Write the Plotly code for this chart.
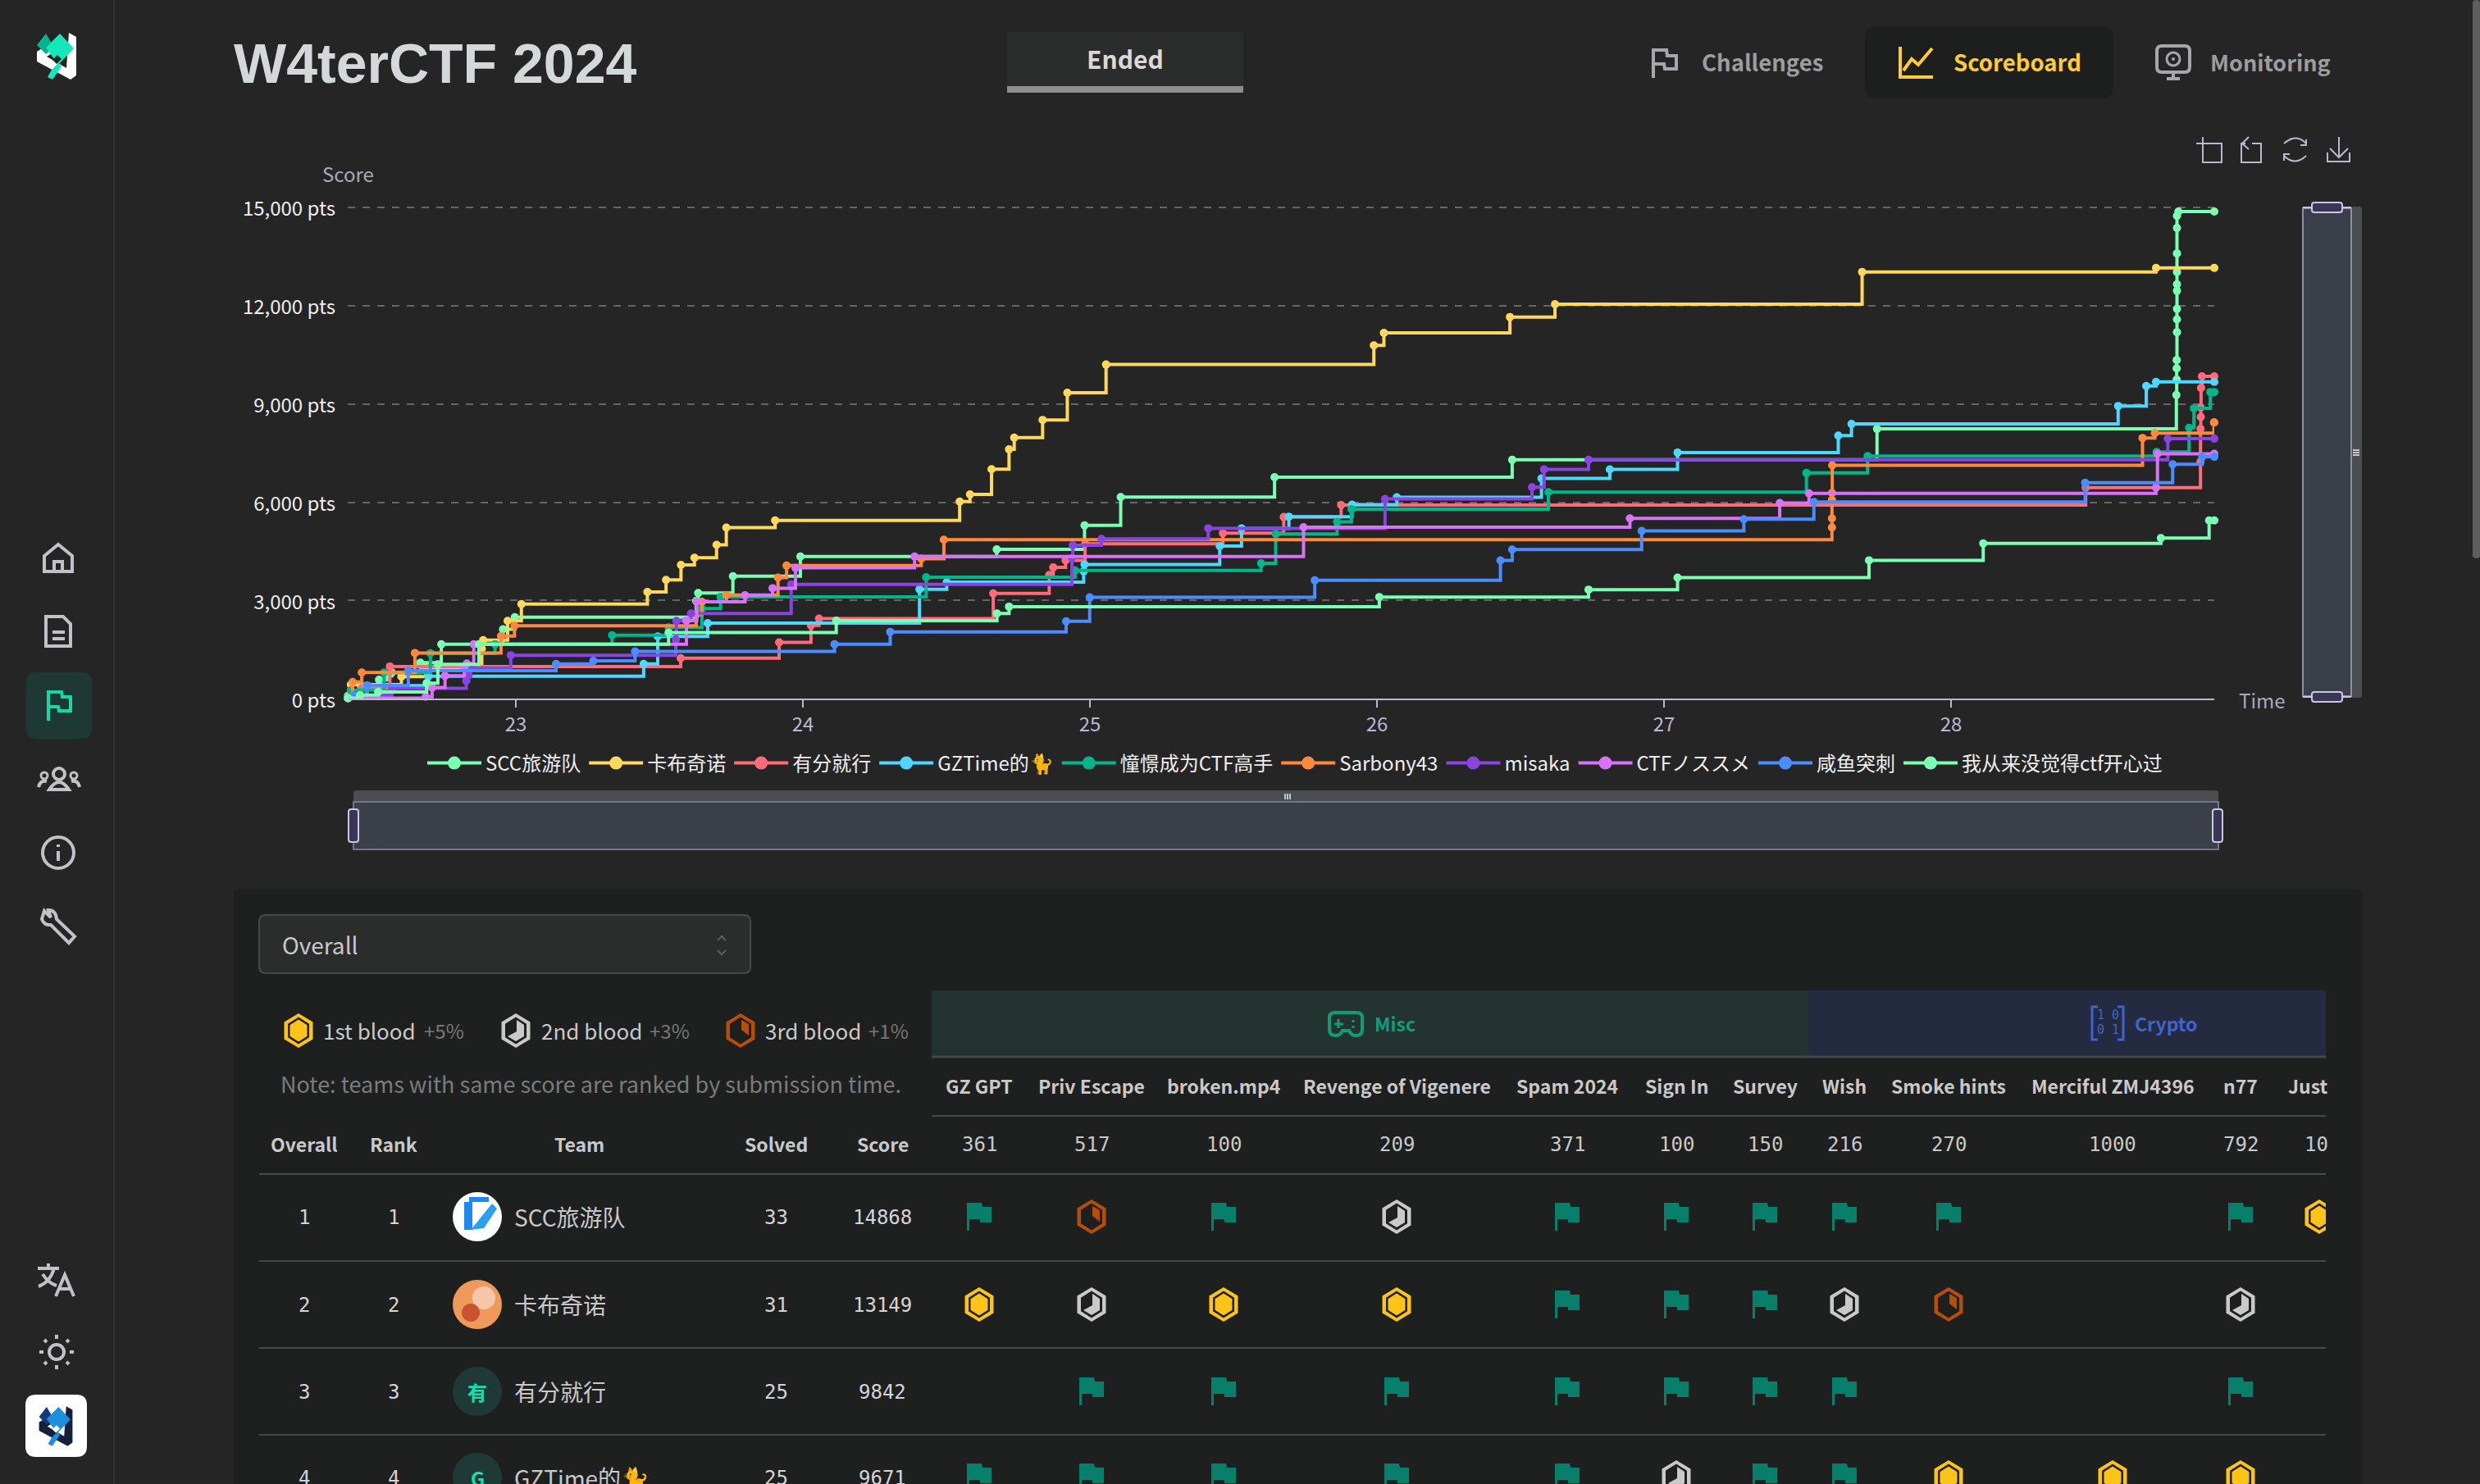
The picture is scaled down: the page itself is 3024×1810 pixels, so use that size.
import plotly.graph_objects as go

W, H = 3024, 1810
BG = "#252525"
PANEL = "#1e2020"
LINE = "#474949"
TEXT = "#c9c9c9"
AXIS = "#b9b8ce"
FONT = "Noto Sans CJK SC"
MONO = "DejaVu Sans Mono"

# score timelines, x in days of the month, y in points
team_labels = ["SCC旅游队", "卡布奇诺", "有分就行", "GZTime的🐈", "憧憬成为CTF高手",
               "Sarbony43", "misaka", "CTFノススメ", "咸鱼突刺", "我从来没觉得ctf开心过"]
team_colors = ["#7bffb2", "#ffd85c", "#ff6b78", "#4fd8ff", "#00b78c",
               "#ff8a3d", "#8a45e0", "#d873f5", "#4b8dff", "#7bffb2"]

scc_days = [22.415, 22.459, 22.523, 22.552, 22.568, 22.667, 22.740, 22.955, 22.996, 23.628, 23.635,
            23.756, 23.991, 24.675, 24.981, 25.107, 25.643, 26.471, 27.742, 28.785, 28.786, 28.786,
            28.786, 28.787, 28.787, 28.787, 28.787, 28.787, 28.787, 28.787, 28.787, 28.787, 28.792, 28.917]
scc_scores = [23, 413, 586, 701, 804, 1103, 1665, 2125, 2492, 2986, 3228,
              3744, 4342, 4560, 5295, 6157, 6765, 7292, 8236, 9269, 9740, 10085,
              10337, 11187, 11578, 11899, 12451, 12646, 13025, 13588, 14369, 14737, 14868, 14868]

kabu_days = [22.415, 22.425, 22.601, 22.686, 22.881, 22.886, 22.971, 23.019, 23.458, 23.523, 23.575,
             23.622, 23.699, 23.733, 23.903, 24.546, 24.582, 24.657, 24.718, 24.736, 24.835, 24.921,
             25.056, 25.989, 26.024, 26.463, 26.620, 27.690, 28.714, 28.917]
kabu_scores = [92, 436, 678, 953, 1528, 1792, 2378, 2894, 3262, 3630, 4089,
               4307, 4698, 5226, 5444, 6019, 6237, 7006, 7615, 7971, 8511, 9338,
               10200, 10783, 11167, 11650, 12040, 13025, 13149, 13149]

youfen_days = [22.415, 22.463, 22.561, 23.574, 23.917, 24.028, 24.056, 24.663, 24.858, 24.872, 24.915,
               24.983, 25.463, 25.675, 25.875, 28.469, 28.869, 28.869, 28.870, 28.870, 28.871, 28.874, 28.917]
youfen_scores = [23, 322, 988, 1240, 1723, 2240, 2447, 3216, 3779, 4009, 4227,
                 4732, 5054, 5548, 5915, 6444, 7236, 8236, 8603, 8890, 9487, 9842, 9842]

gztime_days = [22.415, 22.480, 22.695, 23.445, 23.494, 23.668, 24.406, 24.501, 24.978, 24.981, 25.452,
               25.528, 25.693, 25.913, 26.069, 26.573, 26.811, 27.047, 27.607, 27.653, 28.582, 28.680,
               28.714, 28.917]
gztime_scores = [23, 402, 689, 1068, 1907, 2309, 3342, 3561, 3894, 4100, 4663,
                 5203, 5559, 5927, 6150, 6725, 7000, 7516, 8033, 8391, 8936, 9545,
                 9671, 9671]

dream_days = [22.415, 22.425, 22.541, 22.702, 22.927, 23.335, 23.532, 23.648, 23.713, 24.429, 24.948,
              25.596, 25.647, 25.861, 25.911, 26.597, 27.496, 27.709, 28.716, 28.829, 28.846, 28.903, 28.917]
dream_scores = [23, 264, 804, 1390, 1665, 1941, 2182, 2757, 3113, 3710, 3917,
                4135, 5031, 5398, 5791, 6308, 6892, 7408, 7535, 8270, 8867, 9361, 9361]

sarbony_days = [22.415, 22.431, 22.463, 22.648, 22.948, 22.995, 23.628, 23.648, 23.733, 23.913, 23.943,
                24.412, 24.491, 27.585, 27.585, 27.585, 27.585, 27.586, 28.667, 28.710, 28.916, 28.917]
sarbony_scores = [23, 517, 804, 1401, 1918, 2228, 2573, 2963, 3170, 3698, 4066,
                  4273, 4858, 5233, 5508, 6067, 6283, 7125, 7960, 8109, 8431, 8431]

misaka_days = [22.415, 22.533, 22.568, 22.827, 22.835, 22.842, 22.982, 23.557, 23.559, 23.610, 23.959,
               24.937, 24.940, 25.040, 25.412, 26.028, 26.540, 26.582, 26.737, 28.755, 28.917]
misaka_scores = [23, 115, 322, 551, 724, 942, 1332, 1803, 2378, 2607, 3492,
                 4296, 4686, 4881, 5203, 6100, 6458, 7000, 7292, 7937, 7937]

susume_days = [22.415, 22.686, 22.708, 22.753, 22.820, 22.829, 22.853, 23.594, 23.630, 23.798, 23.894,
               23.974, 24.389, 25.744, 26.881, 27.403, 27.505, 28.714, 28.719, 28.917]
susume_scores = [23, 69, 345, 701, 953, 1080, 1665, 2389, 2963, 3159, 3377,
                 3997, 4342, 5238, 5508, 5975, 6271, 6444, 7477, 7477]

xianyu_days = [22.415, 22.434, 22.482, 22.625, 23.140, 23.270, 23.415, 24.110, 24.304, 24.917, 24.999,
               25.783, 26.430, 26.471, 26.922, 27.278, 27.522, 28.467, 28.772, 28.875, 28.917]
xianyu_scores = [23, 115, 413, 861, 1068, 1160, 1447, 1665, 2045, 2366, 3101,
                 3618, 4225, 4558, 5125, 5483, 6007, 6593, 7156, 7386, 7386]

never_days = [22.415, 22.457, 22.520, 22.689, 22.728, 22.871, 23.532, 24.116, 24.676, 24.718, 26.008,
              26.737, 27.047, 27.714, 28.112, 28.731, 28.899, 28.917]
never_scores = [23, 115, 207, 482, 1057, 1665, 2022, 2389, 2607, 2814, 3108,
                3333, 3700, 4227, 4744, 4904, 5444, 5444]

team_days = [scc_days, kabu_days, youfen_days, gztime_days, dream_days,
             sarbony_days, misaka_days, susume_days, xianyu_days, never_days]
team_scores = [scc_scores, kabu_scores, youfen_scores, gztime_scores, dream_scores,
               sarbony_scores, misaka_scores, susume_scores, xianyu_scores, never_scores]

day_ticks = [23, 24, 25, 26, 27, 28]
score_ticks = [0, 3000, 6000, 9000, 12000, 15000]
score_tick_text = ["0 pts", "3,000 pts", "6,000 pts", "9,000 pts", "12,000 pts", "15,000 pts"]

# scoreboard table
challenge_names = ["GZ GPT", "Priv Escape", "broken.mp4", "Revenge of Vigenere", "Spam 2024", "Sign In",
                   "Survey", "Wish", "Smoke hints", "Merciful ZMJ4396", "n77", "Just"]
challenge_points = ["361", "517", "100", "209", "371", "100", "150", "216", "270", "1000", "792", "10"]
row_overall = ["1", "2", "3", "4"]
row_rank = ["1", "2", "3", "4"]
row_team = ["SCC旅游队", "卡布奇诺", "有分就行", "GZTime的🐈"]
row_solved = ["33", "31", "25", "25"]
row_score = ["14868", "13149", "9842", "9671"]
# F solved, 1/2/3 blood, . unsolved
row_marks = [
    ["F", "3", "F", "2", "F", "F", "F", "F", "F", ".", "F", "1"],
    ["1", "2", "1", "1", "F", "F", "F", "2", "3", ".", "2", "."],
    [".", "F", "F", "F", "F", "F", "F", "F", ".", ".", "F", "."],
    ["F", "F", "F", "F", "F", "2", "F", "F", "1", "1", "1", "."],
]

# page layout, in screen pixels
col_x = [1194, 1331, 1492, 1703, 1911, 2044, 2152, 2249, 2376, 2576, 2732, 2828]
row_y = [1484, 1591, 1697, 1802]

shapes = []
notes = []
PX = dict(xref="x2", yref="y2")


def rect(x0, y0, x1, y1, fill, line=None, r=0, lw=2):
    if r:
        d = (f"M{x0+r},{y0} H{x1-r} Q{x1},{y0} {x1},{y0+r} V{y1-r} Q{x1},{y1} {x1-r},{y1} "
             f"H{x0+r} Q{x0},{y1} {x0},{y1-r} V{y0+r} Q{x0},{y0} {x0+r},{y0} Z")
        shapes.append(dict(type="path", path=d, fillcolor=fill, line=dict(color=line or fill, width=lw if line else 0), **PX))
    else:
        shapes.append(dict(type="rect", x0=x0, y0=y0, x1=x1, y1=y1, fillcolor=fill,
                           line=dict(color=line or fill, width=lw if line else 0), **PX))


def stroke(d, color, w=3):
    shapes.append(dict(type="path", path=d, line=dict(color=color, width=w), **PX))


def poly(points, fill):
    d = "M" + " L".join(f"{x},{y}" for x, y in points) + " Z"
    shapes.append(dict(type="path", path=d, fillcolor=fill, line=dict(color=fill, width=0), **PX))


def circle(cx, cy, r, fill=None, color=None, w=3):
    shapes.append(dict(type="circle", x0=cx-r, y0=cy-r, x1=cx+r, y1=cy+r, fillcolor=fill or "rgba(0,0,0,0)",
                       line=dict(color=color or "rgba(0,0,0,0)", width=w if color else 0), **PX))


def hline(x0, x1, y, color=LINE, w=2):
    shapes.append(dict(type="line", x0=x0, x1=x1, y0=y, y1=y, line=dict(color=color, width=w), **PX))


def txt(x, y, s, size, color=TEXT, anchor="left", weight=400, family=FONT):
    notes.append(dict(x=x, y=y, text=s, showarrow=False, xanchor=anchor, yanchor="middle",
                      font=dict(size=size, color=color, family=family, weight=weight), **PX))


def hex_points(cx, cy, w, h):
    return [(cx, cy-h/2), (cx+w/2, cy-h/4), (cx+w/2, cy+h/4), (cx, cy+h/2), (cx-w/2, cy+h/4), (cx-w/2, cy-h/4)]


def blood(kind, cx, cy):
    color = {"1": "#fcc419", "2": "#c9c9c9", "3": "#b64d08"}[kind]
    poly(hex_points(cx, cy, 35, 42), color)
    poly(hex_points(cx, cy, 26, 33), PANEL)
    if kind == "1":
        poly(hex_points(cx, cy, 21, 27), color)
    elif kind == "2":
        poly([(cx+1, cy-13), (cx+10, cy-7), (cx+10, cy+7), (cx, cy+13), (cx-10, cy+7), (cx+1, cy+1)], color)
    else:
        poly([(cx+1, cy-13), (cx+10, cy-8), (cx+10, cy+6), (cx+1, cy-1)], color)


def flag(cx, cy):
    c = "#087f6b"
    poly([(cx-15, cy-17), (cx+3, cy-17), (cx+4, cy-12), (cx+15, cy-12), (cx+15, cy+7),
          (cx+1, cy+7), (cx+1, cy+3), (cx-12, cy+3), (cx-12, cy+17), (cx-15, cy+17)], c)


def logo(cx, cy, k, white, teal, dark, hole):
    def at(pts):
        return [(cx+k*x, cy+k*y) for x, y in pts]
    poly(at([(15, -28), (24, -23), (24, 24), (17, 29), (-24, 7), (-24, -5), (-10, -14), (-4, -4),
             (-12, 1), (12, 15), (14, -14)]), white)
    poly(at([(-13, -27), (-3, -10), (-13, -2), (-24, -13)]), dark)
    poly(at([(4, -27), (21, -9), (2, 11), (-13, -10)]), teal)
    poly(at([(-6, 17), (2, 9), (6, 13), (-5, 29), (-11, 26)]), teal)
    poly(at([(1, -1), (6, 4), (0, 10), (-5, 5)]), hole)


# page furniture
shapes.append(dict(type="line", x0=139, x1=139, y0=0, y1=H, line=dict(color="#343434", width=2), **PX))
rect(3015, 0, 3024, 681, "#5e5e5e", r=4)

# sidebar
ICON = "#c1c2c5"
logo(69, 68, 1.0, "#ffffff", "#14e8b9", "#05b48f", BG)
rect(32, 820, 112, 901, "#1e3934", r=12)
hx, hy = 71, 681
stroke(f"M{hx-17},{hy-3} L{hx},{hy-17} L{hx+17},{hy-3} V{hy+16} H{hx-17} Z M{hx-5},{hy+16} V{hy+4} H{hx+5} V{hy+16}", ICON, 4)
dx, dy = 71, 770
stroke(f"M{dx-15},{dy-18} H{dx+6} L{dx+15},{dy-9} V{dy+18} H{dx-15} Z M{dx-7},{dy+1} H{dx+8} M{dx-7},{dy+9} H{dx+8}", ICON, 4)
fx, fy = 72, 860
stroke(f"M{fx-13},{fy+19} V{fy-16} H{fx+3} L{fx+4},{fy-10} H{fx+14} V{fy+7} H{fx} L{fx-1},{fy+2} H{fx-13}", "#17d9a8", 4)
tx, ty = 72, 951
circle(tx, ty-7, 7, color=ICON, w=4)
circle(tx-18, ty-5, 4, color=ICON, w=3)
circle(tx+18, ty-5, 4, color=ICON, w=3)
stroke(f"M{tx-12},{ty+12} Q{tx},{ty-6} {tx+12},{ty+12} Z M{tx-25},{ty+9} Q{tx-23},{ty} {tx-15},{ty+2} M{tx+25},{ty+9} Q{tx+23},{ty} {tx+15},{ty+2}", ICON, 4)
ix, iy = 71, 1040
circle(ix, iy, 19, color=ICON, w=4)
stroke(f"M{ix},{iy-2} V{iy+10} M{ix},{iy-10} V{iy-7}", ICON, 4)
wx, wy = 71, 1130
stroke(f"M{wx-20},{wy-9} L{wx-17},{wy-19} L{wx-9},{wy-11} L{wx-12},{wy-20} Q{wx-3},{wy-20} {wx-2},{wy-9} "
       f"L{wx+20},{wy+12} L{wx+13},{wy+20} L{wx-9},{wy-2} Q{wx-17},{wy-1} {wx-20},{wy-9} Z", ICON, 4)
ax, ay = 69, 1560
stroke(f"M{ax-23},{ay-13} H{ax+3} M{ax-10},{ay-19} V{ay-13} M{ax-3},{ay-13} Q{ax-8},{ay+4} {ax-22},{ay+9} "
       f"M{ax-17},{ay-6} Q{ax-10},{ay+5} {ax},{ay+8} M{ax-1},{ay+21} L{ax+10},{ay-5} L{ax+21},{ay+21} M{ax+3},{ay+12} H{ax+17}", ICON, 4)
sx, sy = 69, 1649
circle(sx, sy, 9, color=ICON, w=4)
stroke(f"M{sx},{sy-21} V{sy-16} M{sx},{sy+16} V{sy+21} M{sx-21},{sy} H{sx-16} M{sx+16},{sy} H{sx+21} "
       f"M{sx-15},{sy-15} L{sx-12},{sy-12} M{sx+12},{sy+12} L{sx+15},{sy+15} M{sx+15},{sy-15} L{sx+12},{sy-12} M{sx-12},{sy+12} L{sx-15},{sy+15}", ICON, 4)
rect(31, 1701, 106, 1777, "#ffffff", r=13)
logo(68, 1739, 0.85, "#16203c", "#1e8fe0", "#123a7a", "#ffffff")

# header
txt(283, 77, "W4terCTF 2024", 68, "#d5d8d9", weight=700, family="Liberation Sans")
rect(1228, 39, 1516, 105, "#2b2d2d")
rect(1228, 105, 1516, 113, "#8c8e8d")
txt(1372, 71, "Ended", 30, "#d9d9d9", "center", 700)
cx_, cy_ = 2030, 77
stroke(f"M{cx_-14},{cy_+18} V{cy_-16} H{cx_+2} L{cx_+3},{cy_-9} H{cx_+14} V{cy_+7} H{cx_} L{cx_-1},{cy_+1} H{cx_-14}", "#a6a7a8", 4)
txt(2073, 75, "Challenges", 27.5, "#9c9d9e", weight=700)
rect(2274, 32, 2577, 120, "#1d1f1f", r=14)
bx, by = 2336, 76
stroke(f"M{bx-19},{by-19} V{by+18} H{bx+21} M{bx-15},{by+10} L{bx-5},{by-4} L{bx+3},{by+3} L{bx+20},{by-17}", "#ffcc33", 4)
txt(2380, 75, "Scoreboard", 27.5, "#ffcc33", weight=700)
mx, my = 2650, 75
rect(mx-20, my-19, mx+20, my+13, "rgba(0,0,0,0)", line="#a6a7a8", r=6, lw=4)
circle(mx, my-3, 8, color="#a6a7a8", w=3)
circle(mx, my-3, 2, fill="#a6a7a8")
stroke(f"M{mx},{my+13} V{my+21} M{mx-8},{my+21} H{mx+8}", "#a6a7a8", 4)
txt(2693, 75, "Monitoring", 27, "#9c9d9e", weight=700)

# chart toolbox, drawn like the chart library draws it
stroke("M2678,175 H2709 V198 H2686 V167", AXIS, 2)
stroke("M2746,175 H2757 V198 H2733 V175 H2738 M2742,167 L2734,175 L2742,182", AXIS, 2)
stroke("M2785,175 Q2800,162 2812,175 M2812,170 V177 H2805 M2812,190 Q2798,203 2785,190 M2785,196 V188 H2792", AXIS, 2)
stroke("M2838,186 V197 H2865 V186 M2852,167 V192 M2841,181 L2852,192 L2863,181", AXIS, 2)

# chart axis names
txt(424, 211, "Score", 24, "#a9a8bd", "center")
txt(2758, 853, "Time", 24, "#a9a8bd", "center")

# right zoom bar
rect(2867, 252, 2880, 851, "#4b4e50", r=3)
rect(2808, 254, 2867, 849, "#3b3f4a", line="#8f90a8", lw=2)
for yy in (549, 552, 555):
    hline(2869, 2877, yy, "#f0f0f0", 1.5)
for yy in (253, 850):
    rect(2819, yy-6, 2856, yy+6, "#3b3656", line="#c8c8e0", r=3, lw=2)
    hline(2808, 2819, yy, "#c8c8e0", 2)
    hline(2856, 2867, yy, "#c8c8e0", 2)

# bottom zoom bar
rect(431, 964, 2705, 978, "#4b4e50", r=3)
rect(431, 978, 2705, 1036, "#3b3f4a", line="#73758c", lw=2)
for xx in (1567, 1570, 1573):
    shapes.append(dict(type="line", x0=xx, x1=xx, y0=968, y1=975, line=dict(color="#f0f0f0", width=1.5), **PX))
for xx in (431, 2704):
    rect(xx-6, 987, xx+6, 1027, "#3b3656", line="#c8c8e0", r=3, lw=2)

# scoreboard panel
rect(285, 1084, 2880, H+20, PANEL, r=8)
rect(316, 1116, 915, 1187, "#2b2d2d", line="#484a4a", r=8, lw=2)
txt(342, 1152, "Overall", 28, TEXT)
stroke("M875,1147 L880,1142 L885,1147 M875,1159 L880,1164 L885,1159", "#5d5f5f", 2)

blood("1", 364, 1257)
txt(392, 1256, "1st blood", 26, TEXT)
txt(515, 1256, "+5%", 24, "#777777")
blood("2", 629, 1257)
txt(658, 1256, "2nd blood", 26, TEXT)
txt(790, 1256, "+3%", 24, "#777777")
blood("3", 903, 1257)
txt(931, 1256, "3rd blood", 26, TEXT)
txt(1057, 1256, "+1%", 24, "#777777")
txt(340, 1321, "Note: teams with same score are ranked by submission time.", 27, "#7b7b7b")

# category bands
rect(1136, 1208, 2205, 1288, "#233330")
rect(2205, 1208, 2836, 1288, "#242a3f")
stroke("M1621,1241 Q1621,1235 1628,1235 H1654 Q1661,1235 1661,1241 V1256 Q1661,1263 1653,1263 Q1648,1263 1645,1257 H1637 Q1634,1263 1629,1263 Q1621,1263 1621,1256 Z", "#0f9d78", 4)
stroke("M1632,1243 V1254 M1627,1249 H1638 M1650,1244 V1247 M1650,1251 V1254", "#0f9d78", 3)
txt(1674, 1248, "Misc", 23, "#0f9d78", weight=700)
stroke("M2558,1228 H2551 V1268 H2558 M2582,1228 H2589 V1268 H2582", "#3f63d0", 3)
txt(2570, 1238, "1 0", 15, "#3f63d0", "center", family=MONO)
txt(2570, 1256, "0 1", 15, "#3f63d0", "center", family=MONO)
txt(2601, 1248, "Crypto", 23, "#3f63d0", weight=700)

# table lines
hline(1136, 2836, 1289, LINE, 3)
hline(1136, 2836, 1361)
for yy in (1432, 1538, 1644, 1750):
    hline(316, 2836, yy)

# table head
for head, hx_ in zip(["Overall", "Rank", "Team", "Solved", "Score"], [371, 480, 706, 946, 1076]):
    txt(hx_, 1395, head, 23, TEXT, "center", 700)
for i, name in enumerate(challenge_names):
    if name == "Just":
        txt(2788, 1324, name, 23, TEXT, "left", 700)
    else:
        txt(col_x[i], 1324, name, 23, TEXT, "center", 700)
for i, pts in enumerate(challenge_points):
    if pts == "10":
        txt(2808, 1396, pts, 24, TEXT, "left", family=MONO)
    else:
        txt(col_x[i], 1396, pts, 24, TEXT, "center", family=MONO)

# table rows
for r, y in enumerate(row_y):
    txt(371, y+1, row_overall[r], 24, "#d4d4d4", "center", family=MONO)
    txt(480, y+1, row_rank[r], 24, "#d4d4d4", "center", family=MONO)
    txt(625, y, row_team[r], 28, TEXT)
    txt(946, y+1, row_solved[r], 24, "#d4d4d4", "center", family=MONO)
    txt(1076, y+1, row_score[r], 24, "#d4d4d4", "center", family=MONO)
    for c, mark in enumerate(row_marks[r]):
        if mark == "F":
            flag(col_x[c], y)
        elif mark != ".":
            blood(mark, col_x[c], y)

# avatars
circle(582, row_y[0], 30, fill="#ffffff")
rect(566, 1466, 576, 1500, "#1e88f0")
poly([(574, 1500), (600, 1468), (606, 1474), (590, 1498)], "#29a0f0")
rect(572, 1460, 596, 1466, "#1e88f0")
circle(582, row_y[1], 30, fill="#ef9a5b")
circle(590, row_y[1]-8, 14, fill="#f4c7a9")
circle(574, row_y[1]+10, 11, fill="#c8542f")
circle(582, row_y[2], 30, fill="#1f3a36")
txt(582, row_y[2], "有", 24, "#12e0b0", "center", 700)
circle(582, row_y[3], 30, fill="#1f3a36")
txt(582, row_y[3], "G", 24, "#12e0b0", "center", 700)

# last column is cut off by the scroll area
rect(2836, 1290, 2880, H+20, PANEL)

fig = go.Figure()
for name, color, days, scores in zip(team_labels, team_colors, team_days, team_scores):
    fig.add_trace(go.Scatter(
        x=days,
        y=scores,
        name=name,
        legendgroup=name,
        showlegend=False,
        mode="lines+markers",
        line=dict(color=color, width=4, shape="hv"),
        marker=dict(color=color, size=10),
        cliponaxis=False,
    ))
# legend entries use a bigger dot than the chart points
for name, color in zip(team_labels, team_colors):
    fig.add_trace(go.Scatter(
        x=[None],
        y=[None],
        name=name,
        legendgroup=name,
        mode="lines+markers",
        line=dict(color=color, width=4),
        marker=dict(color=color, size=16),
    ))

fig.update_layout(
    width=W,
    height=H,
    margin=dict(l=0, r=0, t=0, b=0, autoexpand=False),
    paper_bgcolor=BG,
    plot_bgcolor="rgba(0,0,0,0)",
    font=dict(family=FONT, size=24, color="#eeeeee"),
    showlegend=True,
    legend=dict(orientation="h", x=1579/W, xanchor="center", y=1-931/H, yanchor="middle",
                bgcolor="rgba(0,0,0,0)", itemwidth=66, font=dict(size=24, color="#eeeeee"),
                itemclick=False, itemdoubleclick=False),
    xaxis=dict(domain=[424/W, 2700/W], range=[22.414, 28.917], tickvals=day_ticks,
               showgrid=False, zeroline=False, showline=True, linecolor=AXIS, linewidth=2,
               ticks="outside", ticklen=9, tickwidth=2, tickcolor=AXIS,
               tickfont=dict(size=24, color=AXIS), anchor="y"),
    # the range runs slightly past 15,000 so the top grid line is still drawn
    yaxis=dict(domain=[1-852.4/H, 1-250.7/H], range=[0, 15050], tickvals=score_ticks, ticktext=score_tick_text,
               showgrid=True, gridcolor="#666666", griddash="dash",
               gridwidth=2, zeroline=False, showline=False, ticklabelstandoff=14, ticklabelshift=2,
               tickfont=dict(size=24, color="#eeeeee"), anchor="x"),
    xaxis2=dict(domain=[0, 1], range=[0, W], visible=False, fixedrange=True, anchor="y2"),
    yaxis2=dict(domain=[0, 1], range=[H, 0], visible=False, fixedrange=True, anchor="x2"),
    shapes=shapes,
    annotations=notes,
)

fig.write_html("out.html", config=dict(displayModeBar=False),
               post_script="document.body.style.margin='0';document.documentElement.style.overflow='hidden';")
